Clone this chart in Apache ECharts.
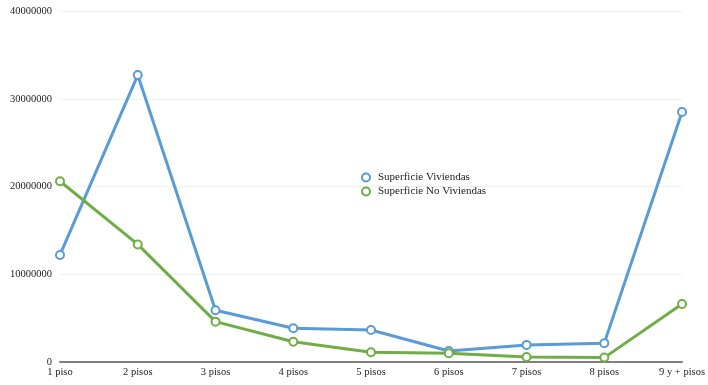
<!DOCTYPE html>
<html><head><meta charset="utf-8">
<script src="https://cdn.jsdelivr.net/npm/echarts@6/dist/echarts.min.js"></script>
<style>html,body{margin:0;padding:0;background:#fff}#c{width:708px;height:385px}</style>
</head><body><div id="c"></div>
<script>
const categories = ['1 piso','2 pisos','3 pisos','4 pisos','5 pisos','6 pisos','7 pisos','8 pisos','9 y + pisos'];
const viviendas = [12200000, 32700000, 5900000, 3850000, 3650000, 1250000, 1950000, 2150000, 28500000];
const noViviendas = [20600000, 13400000, 4600000, 2300000, 1120000, 1000000, 560000, 500000, 6600000];
const seriesNames = ['Superficie Viviendas','Superficie No Viviendas'];
const chart = echarts.init(document.getElementById('c'));
const font = 'Liberation Serif';
chart.setOption({
  animation:false,
  grid:{left:60,right:25,top:11,bottom:23},
  legend:{orient:'vertical',left:356,top:167,itemGap:3,itemWidth:14,itemHeight:8,icon:'emptyCircle',
    textStyle:{fontFamily:font,fontSize:11,color:'#222'},
    data:seriesNames.map(n=>({name:n,itemStyle:{borderWidth:2}}))},
  xAxis:{type:'category',data:categories,boundaryGap:false,
    axisLine:{lineStyle:{color:'#7f7f7f',width:2}},axisTick:{show:false},
    axisLabel:{fontFamily:font,fontSize:10.5,color:'#222',margin:5}},
  yAxis:{type:'value',min:0,max:40000000,interval:10000000,
    axisLine:{show:false},axisTick:{show:false},
    splitLine:{lineStyle:{color:'#efefef',width:1}},
    axisLabel:{fontFamily:font,fontSize:10.5,color:'#222',margin:8,formatter:v=>String(v)}},
  series:[
    {name:seriesNames[0],type:'line',data:viviendas,symbol:'emptyCircle',symbolSize:8,
     lineStyle:{color:'#5B9BD5',width:3},itemStyle:{color:'#5B9BD5',borderWidth:2.5}},
    {name:seriesNames[1],type:'line',data:noViviendas,symbol:'emptyCircle',symbolSize:8,
     lineStyle:{color:'#70AD47',width:3},itemStyle:{color:'#70AD47',borderWidth:2.5}}
  ]
});
</script></body></html>
